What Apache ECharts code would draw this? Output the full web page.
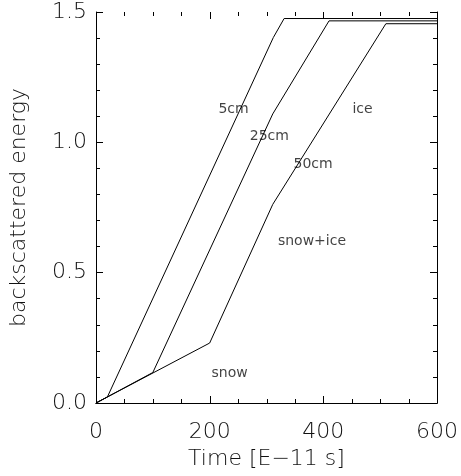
<!DOCTYPE html>
<html>
<head>
<meta charset="utf-8">
<script src="https://cdn.jsdelivr.net/npm/echarts@6/dist/echarts.min.js"></script>
<style>
  html, body { margin: 0; padding: 0; background: #fff; }
  #chart { width: 461px; height: 476px; }
</style>
</head>
<body>
<div id="chart"></div>
<script>
// curves: [time, energy]
var curve5cm = [[0, 0], [20, 0.023], [312, 1.402], [331, 1.475], [600, 1.475]];
var curve25cm = [[0, 0], [100, 0.117], [311, 1.109], [410, 1.466], [600, 1.466]];
var curve50cm = [[0, 0], [200, 0.23], [311, 0.762], [510, 1.455], [600, 1.455]];

// text annotations inside the plot
var noteText = ['5cm', 'ice', '25cm', '50cm', 'snow+ice', 'snow'];
var noteX = [242, 469, 305, 382, 380, 235];
var noteY = [1.126, 1.126, 1.021, 0.917, 0.619, 0.112];

// time axis ticks (major every 200, minor every 50)
var timeTicks = [0, 50, 100, 150, 200, 250, 300, 350, 400, 450, 500, 550, 600];
var timeMajor = [0, 200, 400, 600];

var xName = 'Time [E\u221211 s]';
var yName = 'backscattered energy';

var font = 'DejaVu Sans';
var ink = '#000';
var titleStyle = { color: '#111', fontFamily: font, fontSize: 22, fontWeight: 200 };

function ticks(split) {
    return {
        axisLine: { show: true, lineStyle: { color: ink, width: 1 } },
        axisTick: { show: true, inside: true, length: 7, lineStyle: { color: ink, width: 1 } },
        minorTick: { show: true, splitNumber: split, length: 4, lineStyle: { color: ink, width: 1 } },
        splitLine: { show: false }
    };
}

// x ticks are drawn by the custom series below
var xBottom = Object.assign(ticks(4), {
    type: 'value', min: 0, max: 600, interval: 200,
    axisLabel: { color: '#111', fontFamily: font, fontSize: 22, fontWeight: 200, margin: 18 },
    name: xName, nameLocation: 'middle', nameGap: 29, nameTextStyle: titleStyle
});
xBottom.axisTick = { show: false };
xBottom.minorTick = { show: false };

var xTop = Object.assign(ticks(4), {
    type: 'value', position: 'top', min: 0, max: 600, interval: 200,
    axisLabel: { show: false }
});
xTop.axisTick = { show: false };
xTop.minorTick = { show: false };

var yLeft = Object.assign(ticks(5), {
    type: 'value', min: 0, max: 1.5, interval: 0.5,
    axisLabel: {
        color: '#111', fontFamily: font, fontSize: 22, fontWeight: 200, margin: 9,
        formatter: function (v) { return v.toFixed(1); }
    },
    name: yName, nameLocation: 'middle', nameGap: 66, nameRotate: 90, nameTextStyle: titleStyle
});

var yRight = Object.assign(ticks(5), {
    type: 'value', position: 'right', min: 0, max: 1.5, interval: 0.5,
    axisLabel: { show: false }
});
yRight.axisLine.onZero = false;

function curveSeries(data) {
    return {
        type: 'line', data: data, symbol: 'none', silent: true,
        lineStyle: { color: ink, width: 1 }
    };
}

var notes = [];
for (var i = 0; i < noteText.length; i++) {
    notes.push({ value: [noteX[i], noteY[i]], name: noteText[i] });
}

var tickData = [];
for (var j = 0; j < timeTicks.length; j++) {
    tickData.push([timeTicks[j], timeMajor.indexOf(timeTicks[j]) >= 0 ? 1 : 0]);
}

// tick marks on the bottom and top edges, placed with the x scale
function renderTick(params, api) {
    var v = api.value(0);
    var len = api.value(1) ? 7 : 4;
    var bottom = api.coord([v, 0]);
    var top = api.coord([v, 1.5]);
    var x = Math.round(bottom[0]) + 0.5;
    var style = { stroke: ink, lineWidth: 1 };
    return {
        type: 'group',
        children: [
            { type: 'line', shape: { x1: x, y1: bottom[1], x2: x, y2: bottom[1] - len }, style: style },
            { type: 'line', shape: { x1: x, y1: top[1], x2: x, y2: top[1] + len }, style: style }
        ]
    };
}

var myChart = echarts.init(document.getElementById('chart'));
myChart.setOption({
    animation: false,
    grid: { left: 96, right: 23, top: 12, bottom: 73, containLabel: false },
    xAxis: [xBottom, xTop],
    yAxis: [yLeft, yRight],
    series: [
        curveSeries(curve5cm),
        curveSeries(curve25cm),
        curveSeries(curve50cm),
        {
            type: 'custom', renderItem: renderTick, data: tickData,
            silent: true, clip: false, z: 3
        },
        {
            type: 'scatter', symbolSize: 0, silent: true, data: notes,
            label: {
                show: true, position: 'inside', formatter: '{b}',
                color: '#111', fontFamily: font, fontSize: 14
            }
        }
    ]
});
</script>
</body>
</html>
